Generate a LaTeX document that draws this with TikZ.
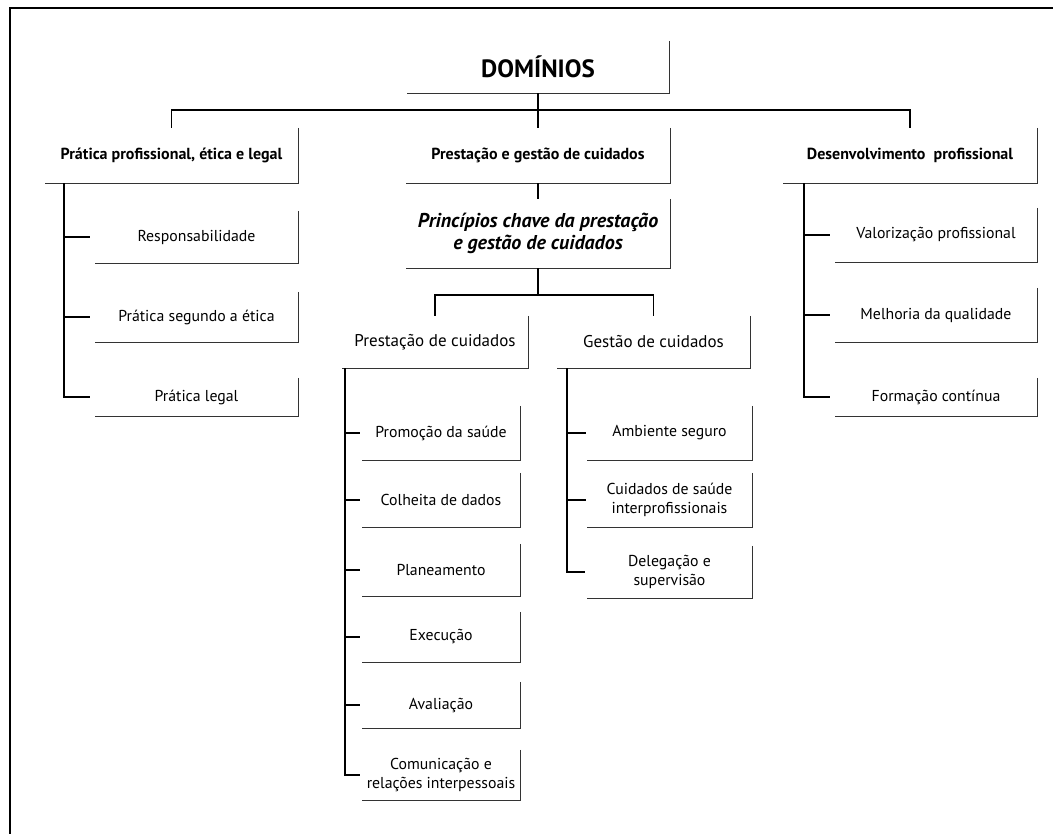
\documentclass[tikz,border=0pt]{standalone}
\usepackage{fontspec}
\setmainfont{PT Sans}
\usetikzlibrary{calc}
% bottom and right rule of a panel
\newcommand\panelrule[1]{\draw[panelline] (#1.north east) -- (#1.south east) -- (#1.south west);}
\begin{document}
\begin{tikzpicture}[x=1pt,y=-1pt,
  every node/.style={inner sep=0pt, align=center},
  title/.style={font=\bfseries\fontsize{25}{28}\selectfont},
  head/.style={font=\bfseries\fontsize{16}{19}\selectfont},
  keyhead/.style={font=\bfseries\itshape\fontsize{20}{21.5}\selectfont},
  sub/.style={font=\fontsize{17}{19}\selectfont},
  item/.style={font=\fontsize{15.8}{18.5}\selectfont},
  panelline/.style={draw=black!80, line width=1.1pt},
  link/.style={draw=black, line width=1.4pt},
]
\useasboundingbox (0,0) rectangle (1053,834);

% outer frame
\draw[line width=2.6pt] (10,834) -- (10,8) -- (1053,8);

% root
\node[title, minimum width=262, minimum height=52] (dom) at (538,67) {DOMÍNIOS};

% the three domains
\node[head, minimum width=253, minimum height=55] (ppel) at (171.5,155.5) {Prática profissional, ética e legal};
\node[head, minimum width=264, minimum height=55] (pgc)  at (538,155.5) {Prestação e gestão de cuidados};
\node[head, minimum width=254, minimum height=55] (dp)   at (910,155.5) {Desenvolvimento\ \ profissional};

% first domain
\node[item, minimum width=203, minimum height=52] (resp)  at (196.5,237) {Responsabilidade};
\node[item, minimum width=203, minimum height=50] (etica) at (196.5,317) {Prática segundo a ética};
\node[item, minimum width=203, minimum height=38] (legal) at (196.5,397) {Prática legal};

% second domain
\node[keyhead, minimum width=264, minimum height=69] (pkey) at (538,233.5) {Princípios chave da prestação\\e gestão de cuidados};
\node[sub, minimum width=186, minimum height=52] (pc) at (435,342) {Prestação de cuidados};
\node[sub, minimum width=193, minimum height=52] (gc) at (653.5,342) {Gestão de cuidados};

\node[item, minimum width=158, minimum height=54] (prom) at (441,433) {Promoção da saúde};
\node[item, minimum width=158, minimum height=54] (colh) at (441,500) {Colheita de dados};
\node[item, minimum width=158, minimum height=52] (plan) at (441,570) {Planeamento};
\node[item, minimum width=158, minimum height=50] (exec) at (441,637) {Execução};
\node[item, minimum width=158, minimum height=46] (aval) at (441,705) {Avaliação};
\node[item, minimum width=158, minimum height=50] (comu) at (441,775) {Comunicação e\\relações interpessoais};

\node[item, minimum width=165, minimum height=54] (amb)  at (669.5,433) {Ambiente seguro};
\node[item, minimum width=165, minimum height=54] (cuid) at (669.5,500) {Cuidados de saúde\\interprofissionais};
\node[item, minimum width=165, minimum height=52] (deleg) at (669.5,572) {Delegação e\\supervisão};

% third domain
\node[item, minimum width=202, minimum height=54] (valor) at (936,235) {Valorização profissional};
\node[item, minimum width=202, minimum height=54] (melh)  at (936,315) {Melhoria da qualidade};
\node[item, minimum width=202, minimum height=38] (form)  at (936,397) {Formação contínua};

% panel rules
\foreach \p in {dom,ppel,pgc,dp,resp,etica,legal,pkey,pc,gc,prom,colh,plan,exec,aval,comu,amb,cuid,deleg,valor,melh,form}
  {\panelrule{\p}}

% root to domains
\draw[link] (dom.south) -- ++(0,17) coordinate (bar1);
\draw[link] (ppel.north) |- (bar1) -| (dp.north);
\draw[link] (bar1) -- (pgc.north);

% first domain list
\coordinate (t1) at ($(ppel.south west)+(19,0)$);
\draw[link] (t1) |- ($(legal.west)+(-5,0)$);
\foreach \c in {resp,etica}
  \draw[link] (t1 |- \c.west) -- ++(26,0);

% second domain tree
\draw[link] (pgc.south) -- (pkey.north);
\draw[link] (pkey.south) -- ++(0,27) coordinate (bar2);
\draw[link] (pc.north) |- (bar2) -| (gc.north);

\coordinate (t2) at ($(pc.south west)+(3,0)$);
\draw[link] (t2) |- ($(comu.west)+(-2,0)$);
\foreach \c in {prom,colh,plan,exec,aval}
  \draw[link] (t2 |- \c.west) -- ++(15,0);

\coordinate (t3) at ($(gc.south west)+(10,0)$);
\draw[link] (t3) |- ($(deleg.west)+(-2,0)$);
\foreach \c in {amb,cuid}
  \draw[link] (t3 |- \c.west) -- ++(19,0);

% third domain list
\coordinate (t4) at ($(dp.south west)+(21,0)$);
\draw[link] (t4) |- ($(form.west)+(-5,0)$);
\foreach \c in {valor,melh}
  \draw[link] (t4 |- \c.west) -- ++(26,0);
\end{tikzpicture}
\end{document}
